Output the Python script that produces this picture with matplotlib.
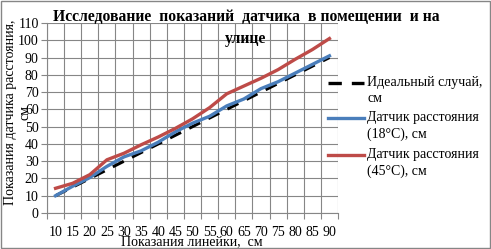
import numpy as np
import matplotlib.pyplot as plt

plt.rcParams['font.family'] = ['Liberation Serif', 'DejaVu Serif']

categories = [10, 15, 20, 25, 30, 35, 40, 45, 50, 55, 60, 65, 70, 75, 80, 85, 90]
ideal = [10, 15, 20, 25, 30, 35, 40, 45, 50, 55, 60, 65, 70, 75, 80, 85, 90]
sensor_18 = [10, 15.5, 20.5, 27, 32.5, 36, 41, 47, 52, 56, 62, 66, 72, 76, 81, 86, 91]
sensor_45 = [14.3, 17.2, 22.2, 30.8, 34.6, 39.5, 44, 49, 54.5, 61, 69, 73.5, 78, 83, 89, 94.6, 101]

labels = ['Идеальный случай,\nсм', 'Датчик расстояния\n(18°С), см', 'Датчик расстояния\n(45°С), см']

fig = plt.figure(figsize=(4.91, 2.49), dpi=100)
ax = fig.add_axes([47 / 491, 1 - 213 / 249, (338 - 47) / 491, (213 - 23) / 249])

x = np.arange(len(categories))
ax.plot(x, ideal, color='black', lw=2.2, dashes=(4, 3), zorder=3)
ax.plot(x, sensor_18, color='#4A7EBB', lw=2.4, zorder=4)
ax.plot(x, sensor_45, color='#BE4B48', lw=2.4, zorder=4)

ax.set_xlim(-0.5, len(categories) - 0.5)
ax.set_ylim(0, 110)
ax.set_yticks(np.arange(0, 111, 10))
ax.set_xticks(np.arange(-0.5, len(categories), 1), minor=False)
ax.set_xticklabels([])
ax.set_xticks(x, minor=True)
ax.set_xticklabels([str(c) for c in categories], minor=True)
ax.tick_params(axis='x', which='minor', length=0, pad=9.5, labelsize=10)
ax.tick_params(axis='x', which='major', length=4, color='#868686', direction='out')
ax.tick_params(axis='y', length=4, color='#868686', labelsize=10, pad=2)
ax.grid(True, which='major', color='#868686', lw=0.8)
for s in ['top', 'right']:
    ax.spines[s].set_visible(False)
for s in ['left', 'bottom']:
    ax.spines[s].set_color('#868686')

fig.text(246 / 491, 1 - 28 / 249, 'Исследование  показаний  датчика  в помещении  и на\nулице',
         ha='center', va='center', fontsize=11.3, fontweight='bold', linespacing=1.45)
fig.text(18 / 491, 1 - 112 / 249, 'Показания датчика расстояния,\nсм', rotation=90,
         ha='center', va='center', fontsize=10, linespacing=1.15)
fig.text(192 / 491, 1 - 242 / 249, 'Показания линейки,  см', ha='center', va='center', fontsize=10)

# legend drawn by hand to match Excel layout
leg_y = [83, 118, 155]
leg_style = [dict(color='black', dashes=(4, 3)), dict(color='#4A7EBB'), dict(color='#BE4B48')]
for yy, lab, st in zip(leg_y, labels, leg_style):
    fy = 1 - yy / 249
    fig.add_artist(plt.Line2D([328 / 491, 364 / 491], [fy, fy], lw=2.4, **st))
    fig.text(367 / 491, fy + 0.03, lab, ha='left', va='top', fontsize=10, linespacing=1.35)

fig.add_artist(plt.Rectangle((0.002, 0.004), 0.995, 0.99, fill=False, ec='#868686', lw=1,
                             transform=fig.transFigure))

fig.savefig('out.png', dpi=100)
